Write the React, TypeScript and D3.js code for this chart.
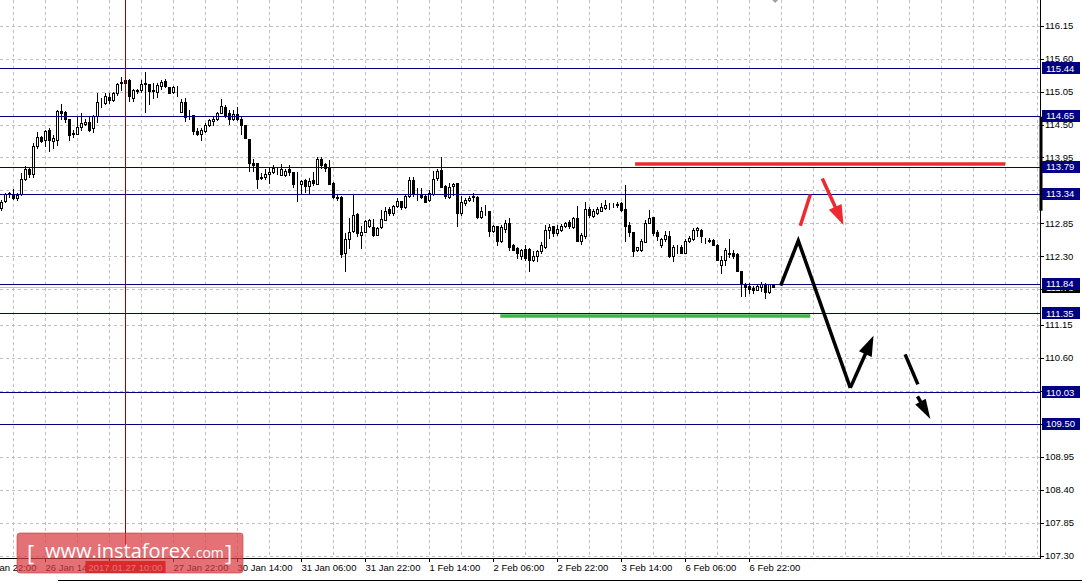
import React, { useEffect, useRef } from "react";
import * as d3 from "d3";

// USD/JPY H1 bars (oldest first)
const opens = [
  113.11, 113.22, 113.34, 113.34, 113.27, 113.34, 113.59, 113.76, 113.67, 114.15,
  114.29, 114.24, 114.41, 114.23, 114.25, 114.73, 114.71, 114.6, 114.34, 114.35,
  114.46, 114.51, 114.54, 114.44, 114.64, 114.87, 114.86, 114.96, 114.91, 115.03,
  115.19, 115.2, 115.25, 114.95, 115.06, 115.08, 115.18, 115.18, 115.06, 115.05,
  115.14, 115.23, 115.13, 115.04, 115.12, 114.71, 114.87, 114.74, 114.66, 114.4,
  114.34, 114.4, 114.49, 114.56, 114.59, 114.7, 114.8, 114.69, 114.6, 114.68,
  114.6, 114.49, 114.26, 113.85, 113.85, 113.6, 113.62, 113.68, 113.7, 113.74,
  113.66, 113.66, 113.75, 113.7, 113.52, 113.51, 113.58, 113.48, 113.58, 113.51,
  113.92, 113.84, 113.77, 113.53, 113.29, 113.29, 112.35, 112.58, 112.72, 113.01,
  112.66, 112.71, 112.81, 112.79, 112.66, 112.79, 112.91, 113.09, 113.03, 113.14,
  113.22, 113.12, 113.3, 113.58, 113.38, 113.33, 113.3, 113.24, 113.34, 113.6,
  113.74, 113.48, 113.29, 113.48, 113.52, 113.02, 113.19, 113.24, 113.29, 113.29,
  112.96, 113.05, 113.05, 112.72, 112.8, 112.55, 112.75, 112.85, 112.48, 112.44,
  112.3, 112.42, 112.42, 112.23, 112.3, 112.38, 112.45, 112.74, 112.8, 112.68,
  112.74, 112.8, 112.88, 112.79, 112.94, 112.56, 112.63, 113.09, 112.98, 113.02,
  113.06, 113.1, 113.14, 113.155, 113.16, 113.19, 113.09, 112.83, 112.7, 112.41,
  112.41, 112.54, 112.86, 112.95, 112.71, 112.48, 112.58, 112.64, 112.31, 112.45,
  112.46, 112.36, 112.55, 112.58, 112.73, 112.73, 112.565, 112.56, 112.565, 112.49,
  112.16, 112.24, 112.36, 112.35, 112.34, 112.06, 111.83, 111.81, 111.77, 111.74,
  111.79, 111.83, 111.7, 111.83,
];
const highs = [
  113.24, 113.36, 113.38, 113.42, 113.36, 113.69, 113.8, 113.77, 114.19, 114.38,
  114.31, 114.41, 114.45, 114.33, 114.74, 114.85, 114.73, 114.6, 114.41, 114.62,
  114.7, 114.59, 114.63, 114.66, 115.02, 114.95, 115.02, 115.02, 115.05, 115.2,
  115.3, 115.25, 115.26, 115.1, 115.09, 115.24, 115.37, 115.18, 115.19, 115.19,
  115.24, 115.26, 115.13, 115.14, 115.14, 114.92, 114.94, 114.75, 114.66, 114.44,
  114.44, 114.52, 114.59, 114.62, 114.71, 114.92, 114.83, 114.74, 114.74, 114.8,
  114.63, 114.49, 114.26, 113.92, 113.86, 113.69, 113.75, 113.77, 113.83, 113.77,
  113.84, 113.76, 113.83, 113.71, 113.71, 113.58, 113.59, 113.6, 113.71, 113.96,
  113.96, 113.86, 113.91, 113.54, 113.33, 113.3, 112.69, 112.94, 113.34, 113.03,
  112.8, 112.91, 112.93, 112.92, 112.79, 113.08, 113.13, 113.13, 113.16, 113.27,
  113.23, 113.33, 113.63, 113.62, 113.44, 113.44, 113.34, 113.41, 113.73, 113.75,
  113.95, 113.49, 113.53, 113.53, 113.53, 113.3, 113.27, 113.31, 113.35, 113.31,
  113.13, 113.16, 113.06, 112.83, 112.81, 112.83, 112.91, 112.94, 112.51, 112.46,
  112.42, 112.48, 112.44, 112.38, 112.41, 112.53, 112.83, 112.84, 112.81, 112.83,
  112.84, 112.88, 112.91, 112.96, 113.14, 112.69, 113.21, 113.12, 113.09, 113.13,
  113.19, 113.24, 113.19, 113.19, 113.2, 113.21, 113.49, 112.88, 112.71, 112.46,
  112.58, 112.91, 113.08, 112.96, 112.73, 112.6, 112.72, 112.72, 112.48, 112.49,
  112.49, 112.58, 112.63, 112.77, 112.79, 112.75, 112.6, 112.6, 112.58, 112.51,
  112.3, 112.44, 112.58, 112.41, 112.35, 112.06, 111.85, 111.85, 111.8, 111.83,
  111.87, 111.85, 111.84, 111.84,
];
const lows = [
  113.07, 113.21, 113.29, 113.26, 113.24, 113.33, 113.57, 113.63, 113.62, 114.1,
  114.21, 114.14, 114.06, 114.1, 114.16, 114.6, 114.55, 114.25, 114.29, 114.34,
  114.41, 114.49, 114.39, 114.38, 114.55, 114.8, 114.84, 114.86, 114.89, 115.0,
  115.08, 115.19, 114.9, 114.9, 115.03, 115.05, 114.71, 114.85, 114.94, 114.96,
  115.1, 115.12, 115.02, 115.02, 114.98, 114.71, 114.56, 114.59, 114.35, 114.33,
  114.24, 114.38, 114.48, 114.49, 114.58, 114.69, 114.62, 114.51, 114.58, 114.58,
  114.35, 114.27, 113.73, 113.72, 113.44, 113.59, 113.59, 113.53, 113.69, 113.68,
  113.65, 113.64, 113.65, 113.46, 113.23, 113.35, 113.38, 113.35, 113.49, 113.51,
  113.77, 113.73, 113.5, 113.27, 113.24, 112.29, 112.06, 112.44, 112.7, 112.63,
  112.44, 112.7, 112.79, 112.64, 112.65, 112.78, 112.9, 112.99, 112.99, 113.13,
  113.09, 113.1, 113.29, 113.31, 113.24, 113.27, 113.21, 113.23, 113.33, 113.58,
  113.46, 113.27, 113.27, 113.33, 112.81, 112.99, 113.16, 113.22, 113.22, 112.94,
  112.94, 112.99, 112.63, 112.7, 112.48, 112.53, 112.71, 112.41, 112.4, 112.27,
  112.25, 112.24, 112.05, 112.22, 112.22, 112.35, 112.44, 112.6, 112.64, 112.66,
  112.72, 112.79, 112.77, 112.77, 112.55, 112.51, 112.6, 112.96, 112.96, 113.0,
  113.05, 113.09, 113.09, 113.12, 113.12, 113.05, 112.56, 112.63, 112.31, 112.38,
  112.38, 112.53, 112.85, 112.66, 112.57, 112.46, 112.55, 112.29, 112.22, 112.35,
  112.35, 112.35, 112.53, 112.57, 112.63, 112.53, 112.52, 112.53, 112.48, 112.23,
  112.02, 112.16, 112.29, 112.27, 112.06, 111.64, 111.63, 111.69, 111.68, 111.73,
  111.72, 111.6, 111.69, 111.79,
];
const closes = [
  113.21, 113.34, 113.35, 113.27, 113.33, 113.59, 113.76, 113.67, 114.15, 114.29,
  114.23, 114.4, 114.24, 114.28, 114.73, 114.69, 114.6, 114.33, 114.36, 114.46,
  114.52, 114.54, 114.41, 114.64, 114.87, 114.88, 114.98, 114.91, 115.03, 115.18,
  115.21, 115.24, 114.97, 115.08, 115.08, 115.18, 115.19, 115.06, 115.08, 115.16,
  115.21, 115.14, 115.02, 115.13, 115.12, 114.88, 114.63, 114.74, 114.4, 114.34,
  114.41, 114.49, 114.58, 114.59, 114.69, 114.81, 114.66, 114.59, 114.68, 114.6,
  114.49, 114.27, 113.85, 113.83, 113.59, 113.62, 113.68, 113.71, 113.77, 113.745,
  113.75, 113.73, 113.7, 113.5, 113.52, 113.55, 113.48, 113.55, 113.52, 113.92,
  113.83, 113.77, 113.51, 113.29, 113.28, 112.33, 112.58, 112.7, 112.99, 112.68,
  112.71, 112.89, 112.91, 112.66, 112.78, 112.92, 113.06, 113.02, 113.14, 113.22,
  113.13, 113.3, 113.58, 113.34, 113.38, 113.29, 113.21, 113.35, 113.59, 113.73,
  113.46, 113.3, 113.46, 113.51, 113.02, 113.21, 113.24, 113.27, 113.3, 112.96,
  113.06, 113.05, 112.72, 112.81, 112.55, 112.79, 112.85, 112.46, 112.41, 112.35,
  112.41, 112.27, 112.24, 112.31, 112.38, 112.48, 112.74, 112.79, 112.68, 112.75,
  112.8, 112.86, 112.8, 112.94, 112.56, 112.66, 113.09, 112.99, 113.05, 113.09,
  113.12, 113.16, 113.145, 113.16, 113.165, 113.08, 112.8, 112.7, 112.38, 112.45,
  112.56, 112.86, 112.94, 112.69, 112.64, 112.58, 112.66, 112.3, 112.45, 112.455,
  112.36, 112.55, 112.6, 112.74, 112.77, 112.63, 112.57, 112.565, 112.49, 112.24,
  112.24, 112.41, 112.33, 112.3, 112.06, 111.83, 111.79, 111.75, 111.74, 111.81,
  111.83, 111.7, 111.83, 111.79,
];

// bottom time scale: bar index of each label and its text
const timeLabelBars = [-5, 11, 27, 43, 59, 75, 91, 107, 123, 139, 155, 171, 187];
const timeLabels = [
  "25 Jan 22:00", "26 Jan 14:00", "27 Jan 06:00", "27 Jan 22:00", "30 Jan 14:00",
  "31 Jan 06:00", "31 Jan 22:00", "1 Feb 14:00", "2 Feb 06:00", "2 Feb 22:00",
  "3 Feb 14:00", "6 Feb 06:00", "6 Feb 22:00",
];

// right price scale
const priceTicks = [
  116.15, 115.6, 115.05, 114.5, 113.95, 113.4, 112.85, 112.3, 111.75,
  111.15, 110.6, 110.05, 109.5, 108.95, 108.4, 107.85, 107.3,
];
const levelPrices = [115.44, 114.65, 113.79, 113.34, 111.84, 111.35, 110.03, 109.5];
const bidPrice = 111.78;
const crosshairBar = 31;
const crosshairText = "2017.01.27 10:00";
const scaleMarkPrices = [114.63, 113.06];

// hand drawn forecast (bar index, price)
const resistanceBars = [158.4, 250.9];
const resistancePrice = 113.84;
const supportBars = [124.7, 202.2];
const supportPrice = 111.3;
const zigzagBars = [194.8, 199.2, 212.2, 218.0];
const zigzagPrices = [111.81, 112.56, 110.1, 110.97];
const redTickBars = [199.7, 202.2];
const redTickPrices = [112.81, 113.33];
const redArrowBars = [205.2, 210.5];
const redArrowPrices = [113.6, 112.82];
const dashBars = [225.9, 229.1];
const dashPrices = [110.66, 110.16];
const dashHeadBars = [229.0, 232.2];
const dashHeadPrices = [109.96, 109.58];

export default function App() {
  const svgRef = useRef<SVGSVGElement>(null);

  useEffect(() => {
    if (!svgRef.current) return;
    const svg = d3.select(svgRef.current);
    svg.selectAll("*").remove();

    const width = 1082;
    const height = 583;
    const plotRight = 1040;
    const axisY = 558;
    const font = "'Liberation Sans', Arial, sans-serif";

    // 4px per bar
    const x = d3.scaleLinear().domain([0, 1]).range([1.5, 5.5]);
    const y = d3.scaleLinear().domain([107.3, 116.15]).range([555.5, 25.8]);
    const crisp = (v: number) => Math.round(v) + 0.5;

    svg.append("rect").attr("width", width).attr("height", height).attr("fill", "#fff");

    // grid
    const grid = svg.append("g")
      .attr("stroke", "#c0c0c0")
      .attr("stroke-dasharray", "3,3")
      .attr("shape-rendering", "crispEdges");
    d3.range(3, 260, 8).forEach((b) => {
      grid.append("line")
        .attr("x1", x(b)).attr("x2", x(b))
        .attr("y1", 0).attr("y2", axisY);
    });
    priceTicks.forEach((p) => {
      grid.append("line")
        .attr("x1", 0).attr("x2", plotRight)
        .attr("y1", crisp(y(p))).attr("y2", crisp(y(p)));
    });

    // bid line
    svg.append("line")
      .attr("x1", 0).attr("x2", plotRight)
      .attr("y1", crisp(y(bidPrice))).attr("y2", crisp(y(bidPrice)))
      .attr("stroke", "#c0c0c0")
      .attr("shape-rendering", "crispEdges");

    // candles
    const candles = svg.append("g").attr("shape-rendering", "crispEdges");
    d3.range(opens.length).forEach((i) => {
      const cx = x(i);
      const o = opens[i];
      const c = closes[i];
      candles.append("line")
        .attr("x1", cx).attr("x2", cx)
        .attr("y1", Math.round(y(highs[i]))).attr("y2", Math.round(y(lows[i])) + 1)
        .attr("stroke", "#000");
      const top = crisp(y(Math.max(o, c)));
      const bot = crisp(y(Math.min(o, c)));
      if (c >= o) {
        candles.append("rect")
          .attr("x", cx - 1).attr("y", top)
          .attr("width", 2).attr("height", Math.max(bot - top, 0))
          .attr("fill", "#fff").attr("stroke", "#000");
      } else {
        candles.append("rect")
          .attr("x", cx - 1.5).attr("y", top - 0.5)
          .attr("width", 3).attr("height", bot - top + 1)
          .attr("fill", "#000");
      }
    });

    // horizontal levels
    levelPrices.forEach((p) => {
      svg.append("line")
        .attr("x1", 0).attr("x2", plotRight)
        .attr("y1", crisp(y(p))).attr("y2", crisp(y(p)))
        .attr("stroke", "#000080")
        .attr("shape-rendering", "crispEdges");
    });

    // forecast drawing
    const ann = svg.append("g").attr("fill", "none");
    ann.append("line")
      .attr("x1", x(resistanceBars[0])).attr("x2", x(resistanceBars[1]))
      .attr("y1", y(resistancePrice)).attr("y2", y(resistancePrice))
      .attr("stroke", "#ee2a30").attr("stroke-width", 3.5);
    ann.append("line")
      .attr("x1", x(supportBars[0])).attr("x2", x(supportBars[1]))
      .attr("y1", y(supportPrice)).attr("y2", y(supportPrice))
      .attr("stroke", "#3cb54a").attr("stroke-width", 3.5);

    const arrow = (x1: number, y1: number, x2: number, y2: number, color: string, len = 20, half = 7) => {
      const d = Math.hypot(x2 - x1, y2 - y1);
      const ux = (x2 - x1) / d;
      const uy = (y2 - y1) / d;
      const bx = x2 - ux * len;
      const by = y2 - uy * len;
      ann.append("line")
        .attr("x1", x1).attr("y1", y1).attr("x2", bx + ux * 2).attr("y2", by + uy * 2)
        .attr("stroke", color).attr("stroke-width", 3.5);
      ann.append("path")
        .attr("d", `M${x2},${y2}L${bx - uy * half},${by + ux * half}L${bx + uy * half},${by - ux * half}Z`)
        .attr("fill", color);
    };

    const zig = zigzagBars.map((b, k) => [x(b), y(zigzagPrices[k])] as [number, number]);
    ann.append("path")
      .attr("d", d3.line()(zig.slice(0, 3)))
      .attr("stroke", "#000").attr("stroke-width", 3.5)
      .attr("stroke-linejoin", "miter");
    arrow(zig[2][0], zig[2][1], zig[3][0], zig[3][1], "#000");

    ann.append("line")
      .attr("x1", x(redTickBars[0])).attr("y1", y(redTickPrices[0]))
      .attr("x2", x(redTickBars[1])).attr("y2", y(redTickPrices[1]))
      .attr("stroke", "#ee2a30").attr("stroke-width", 3.5);
    arrow(x(redArrowBars[0]), y(redArrowPrices[0]), x(redArrowBars[1]), y(redArrowPrices[1]), "#ee2a30");

    ann.append("line")
      .attr("x1", x(dashBars[0])).attr("y1", y(dashPrices[0]))
      .attr("x2", x(dashBars[1])).attr("y2", y(dashPrices[1]))
      .attr("stroke", "#000").attr("stroke-width", 3.5);
    arrow(x(dashHeadBars[0]), y(dashHeadPrices[0]), x(dashHeadBars[1]), y(dashHeadPrices[1]), "#000", 20, 6);

    // crosshair
    svg.append("line")
      .attr("x1", x(crosshairBar) - 0.5).attr("x2", x(crosshairBar) - 0.5)
      .attr("y1", 0).attr("y2", axisY)
      .attr("stroke", "#a00000").attr("stroke-width", 1)
      .attr("shape-rendering", "crispEdges");

    // axes
    svg.append("line")
      .attr("x1", plotRight + 0.5).attr("x2", plotRight + 0.5)
      .attr("y1", 0).attr("y2", axisY + 0.5)
      .attr("stroke", "#000").attr("shape-rendering", "crispEdges");
    svg.append("line")
      .attr("x1", 0).attr("x2", plotRight + 0.5)
      .attr("y1", axisY + 0.5).attr("y2", axisY + 0.5)
      .attr("stroke", "#000").attr("shape-rendering", "crispEdges");
    svg.append("rect")
      .attr("x", plotRight - 0.5).attr("width", 3)
      .attr("y", y(scaleMarkPrices[0])).attr("height", y(scaleMarkPrices[1]) - y(scaleMarkPrices[0]))
      .attr("fill", "#000");

    // price labels
    const priceAxis = svg.append("g").style("font-family", font).style("font-size", "9.5px");
    priceTicks.forEach((p) => {
      priceAxis.append("line")
        .attr("x1", plotRight + 1).attr("x2", plotRight + 4)
        .attr("y1", crisp(y(p))).attr("y2", crisp(y(p)))
        .attr("stroke", "#000").attr("shape-rendering", "crispEdges");
      priceAxis.append("text")
        .attr("x", plotRight + 5).attr("y", y(p)).attr("dy", "0.36em")
        .attr("fill", "#000")
        .text(p.toFixed(2));
    });

    // bid label then level labels on top
    priceAxis.append("rect")
      .attr("x", plotRight + 2).attr("width", 38)
      .attr("y", Math.round(y(bidPrice)) - 6).attr("height", 12)
      .attr("fill", "#000");
    priceAxis.append("text")
      .attr("x", plotRight + 6).attr("y", y(bidPrice)).attr("dy", "0.36em")
      .attr("fill", "#fff").text(bidPrice.toFixed(2));
    levelPrices.forEach((p) => {
      priceAxis.append("rect")
        .attr("x", plotRight + 2).attr("width", 38)
        .attr("y", Math.round(y(p)) - 6).attr("height", 12)
        .attr("fill", "#000080");
      priceAxis.append("text")
        .attr("x", plotRight + 6).attr("y", y(p)).attr("dy", "0.36em")
        .attr("fill", "#fff").text(p.toFixed(2));
    });

    // time labels
    const timeAxis = svg.append("g").style("font-family", font).style("font-size", "9.5px");
    timeLabelBars.forEach((b, k) => {
      timeAxis.append("line")
        .attr("x1", x(b)).attr("x2", x(b))
        .attr("y1", axisY).attr("y2", axisY + 4)
        .attr("stroke", "#000").attr("shape-rendering", "crispEdges");
      timeAxis.append("text")
        .attr("x", x(b)).attr("y", axisY + 13)
        .attr("fill", "#000")
        .text(timeLabels[k]);
    });
    timeAxis.append("rect")
      .attr("x", x(crosshairBar) - 40).attr("width", 80)
      .attr("y", axisY + 3).attr("height", 12)
      .attr("fill", "#e00000");
    timeAxis.append("text")
      .attr("x", x(crosshairBar)).attr("y", axisY + 13)
      .attr("text-anchor", "middle")
      .attr("fill", "#fff")
      .text(crosshairText);

    // watermark
    const logo = svg.append("g");
    logo.append("rect")
      .attr("x", 17).attr("y", 533).attr("width", 226).attr("height", 40).attr("rx", 3)
      .attr("fill", "#d83a40").attr("fill-opacity", 0.72)
      .attr("stroke", "#c23a3a").attr("stroke-opacity", 0.6);
    const logoText = logo.append("g")
      .attr("fill", "#fff")
      .style("font-family", "'Open Sans', sans-serif");
    logoText.append("text").attr("x", 27).attr("y", 561).style("font-size", "22px").text("[");
    logoText.append("text").attr("x", 45).attr("y", 558).style("font-size", "20px").text("www.instaforex");
    logoText.append("text").attr("x", 192).attr("y", 558).style("font-size", "14px").text(".com");
    logoText.append("text").attr("x", 225).attr("y", 561).style("font-size", "22px").text("]");

    // chart shift marker
    svg.append("path")
      .attr("d", `M${x(193.4) - 3},0L${x(193.4) + 3},0L${x(193.4)},3Z`)
      .attr("fill", "#a0a0a0");

    // window frame at bottom
    svg.append("line")
      .attr("x1", 58).attr("x2", width)
      .attr("y1", 580.5).attr("y2", 580.5)
      .attr("stroke", "#000").attr("shape-rendering", "crispEdges");
  }, []);

  return (
    <svg
      ref={svgRef}
      width={1082}
      height={583}
      style={{ position: "absolute", left: 0, top: 0, display: "block" }}
    />
  );
}
